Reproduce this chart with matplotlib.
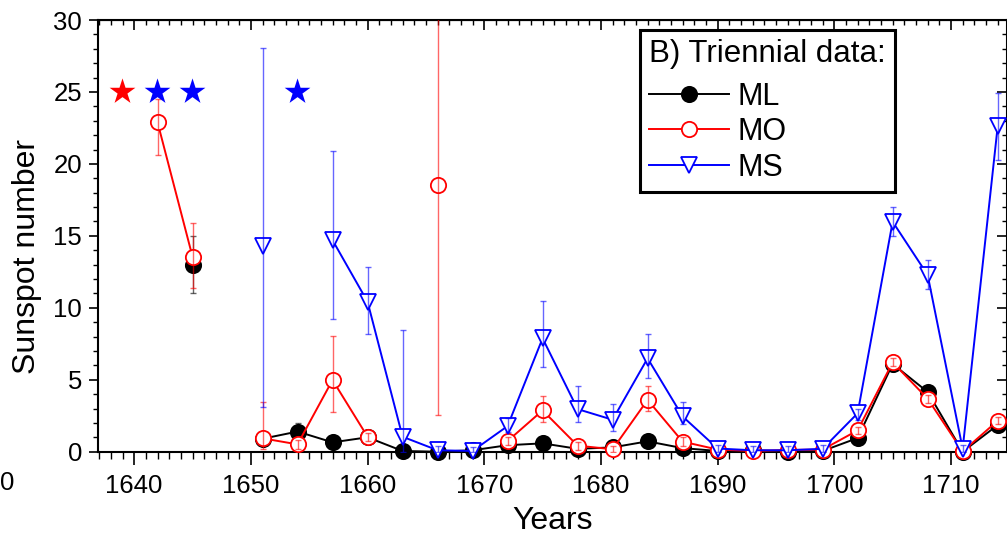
import numpy as np
import matplotlib
matplotlib.use('Agg')
import matplotlib.pyplot as plt
from matplotlib.ticker import MultipleLocator

plt.rcParams['font.family'] = ['Liberation Sans', 'DejaVu Sans']

nan = np.nan

# triennial epochs
years = [1639, 1642, 1645, 1648, 1651, 1654, 1657, 1660, 1663, 1666, 1669, 1672, 1675,
         1678, 1681, 1684, 1687, 1690, 1693, 1696, 1699, 1702, 1705, 1708, 1711, 1714]

# ML series (filled black circles)
ml = [nan, nan, 13.0, nan, 0.9, 1.4, 0.65, 1.0, 0.05, 0.0, 0.1, 0.45, 0.58,
      0.2, 0.3, 0.72, 0.25, 0.05, 0.1, 0.0, 0.05, 0.95, 6.1, 4.15, 0.0, 1.85]
ml_lo = [nan, nan, 11.0, nan, 0.7, 0.8, 0.45, 0.8, 0.0, 0.0, 0.0, 0.25, 0.38,
         0.0, 0.1, 0.52, 0.05, 0.0, 0.0, 0.0, 0.0, 0.75, 5.8, 3.9, 0.0, 1.6]
ml_hi = [nan, nan, 15.0, nan, 1.1, 2.0, 0.85, 1.2, 0.2, 0.3, 0.3, 0.65, 0.78,
         0.4, 0.5, 0.92, 0.45, 0.2, 0.3, 0.2, 0.2, 1.15, 6.4, 4.4, 0.2, 2.1]

# MO series (open red circles)
mo = [nan, 22.9, 13.55, nan, 0.93, 0.51, 4.98, 1.04, nan, 18.5, nan, 0.74, 2.87,
      0.42, 0.17, 3.6, 0.7, 0.15, 0.05, 0.12, 0.15, 1.48, 6.21, 3.68, 0.02, 2.15]
mo_lo = [nan, 20.6, 11.4, nan, 0.17, 0.2, 2.74, 0.75, nan, 2.55, nan, 0.45, 2.06,
         0.15, 0.0, 2.8, 0.4, 0.0, 0.0, 0.0, 0.0, 1.2, 5.95, 3.4, 0.0, 1.9]
mo_hi = [nan, 24.5, 15.87, nan, 3.45, 0.8, 8.06, 1.3, nan, 35.0, nan, 1.0, 3.9,
         0.7, 0.4, 4.55, 1.0, 0.4, 0.3, 0.4, 0.4, 1.75, 6.5, 3.95, 0.3, 2.4]

# MS series (open blue down triangles)
ms = [nan, nan, nan, nan, 14.3, nan, 14.7, 10.42, 1.04, 0.1, 0.05, 1.78, 7.88,
      2.96, 2.22, 6.49, 2.45, 0.22, 0.1, 0.1, 0.2, 2.67, 15.98, 12.28, 0.2, 22.6]
ms_lo = [nan, nan, nan, nan, 3.1, nan, 9.2, 8.18, 0.0, 0.0, 0.0, 1.4, 5.87,
         2.03, 1.42, 5.14, 1.9, 0.0, 0.0, 0.0, 0.0, 2.2, 15.0, 11.3, 0.0, 20.3]
ms_hi = [nan, nan, nan, nan, 28.03, nan, 20.9, 12.86, 8.46, 0.4, 0.3, 2.36, 10.5,
         4.55, 3.3, 8.2, 3.45, 0.5, 0.4, 0.4, 0.5, 3.0, 17.0, 13.3, 0.5, 24.9]

# stars marking missing records
star_years = [1639, 1642, 1645, 1654]
star_level = [25, 25, 25, 25]
star_colors = ['#ff0000', '#0000ff', '#0000ff', '#0000ff']

fig = plt.figure(figsize=(10.07, 5.38), dpi=100)
ax = fig.add_axes([98 / 1007, 1 - 451.7 / 538, (1007 - 98) / 1007, (451.7 - 20) / 538])
ax.set_xlim(1636.9, 1714.8)
ax.set_ylim(0, 30)


def draw_series(vals, lo, hi, color, marker, ms_, face, z):
    v = np.array(vals, float)
    err = [v - np.array(lo, float), np.array(hi, float) - v]
    line, = ax.plot(years, v, color=color, lw=1.4, marker=marker, markersize=ms_,
                    markerfacecolor=face, markeredgecolor=color, markeredgewidth=1.3,
                    zorder=z, clip_on=False)
    ax.errorbar(years, v, yerr=err, fmt='none', ecolor=color, elinewidth=1.0,
                capsize=2.2, capthick=1.0, alpha=0.6, zorder=z + 0.5)
    return line


h_ml = draw_series(ml, ml_lo, ml_hi, 'black', 'o', 11, 'black', 3)
h_mo = draw_series(mo, mo_lo, mo_hi, '#ff0000', 'o', 11, 'white', 4)
h_ms = draw_series(ms, ms_lo, ms_hi, '#0000ff', 'v', 12, 'white', 5)

ax.scatter(star_years, star_level, marker='*', s=380, c=star_colors, zorder=6,
           linewidths=0)

# axes styling
for sp in ax.spines.values():
    sp.set_linewidth(1.5)
ax.xaxis.set_major_locator(MultipleLocator(10))
ax.xaxis.set_minor_locator(MultipleLocator(1))
ax.yaxis.set_major_locator(MultipleLocator(5))
ax.yaxis.set_minor_locator(MultipleLocator(1))
ax.tick_params(axis='x', which='major', direction='out', length=9, width=1.2,
               labelsize=18.5, pad=7)
ax.tick_params(axis='x', which='minor', direction='out', length=5, width=1.0)
ax.tick_params(axis='y', which='major', direction='out', length=6.5, width=1.2,
               labelsize=18.5, pad=5)
ax.tick_params(axis='y', which='minor', direction='out', length=3.5, width=1.0)

top = ax.secondary_xaxis('top')
top.xaxis.set_major_locator(MultipleLocator(10))
top.xaxis.set_minor_locator(MultipleLocator(1))
top.tick_params(which='major', direction='in', length=7, width=1.2, labeltop=False)
top.tick_params(which='minor', direction='in', length=3.5, width=1.0)

right = ax.secondary_yaxis('right')
right.yaxis.set_major_locator(MultipleLocator(5))
right.yaxis.set_minor_locator(MultipleLocator(1))
right.tick_params(which='major', direction='in', length=7, width=1.2, labelright=False)
right.tick_params(which='minor', direction='in', length=3.5, width=1.0)

ax.set_xlabel('Years', fontsize=23, labelpad=6)
ax.set_ylabel('Sunspot number', fontsize=23)
ax.yaxis.set_label_coords(-0.0615, 0.452)

leg = ax.legend([h_ml, h_mo, h_ms], ['ML', 'MO', 'MS'], title='B) Triennial data:',
                loc='upper left', bbox_to_anchor=(640 / 1007, 1 - 30 / 538),
                bbox_transform=fig.transFigure, frameon=True, fancybox=False,
                edgecolor='black', framealpha=1, fontsize=22, title_fontsize=22.5,
                handlelength=2.6, handletextpad=0.3, borderpad=0.3,
                labelspacing=0.18, borderaxespad=0, alignment='left', numpoints=1)
leg._legend_box.sep = 9
leg.get_frame().set_linewidth(2.2)
leg.set_zorder(10)

# fragment of neighbouring panel's tick label
fig.text(0, 1 - 483 / 538, '0', fontsize=18.5, ha='left', va='center')

fig.savefig('out.png', dpi=100)
